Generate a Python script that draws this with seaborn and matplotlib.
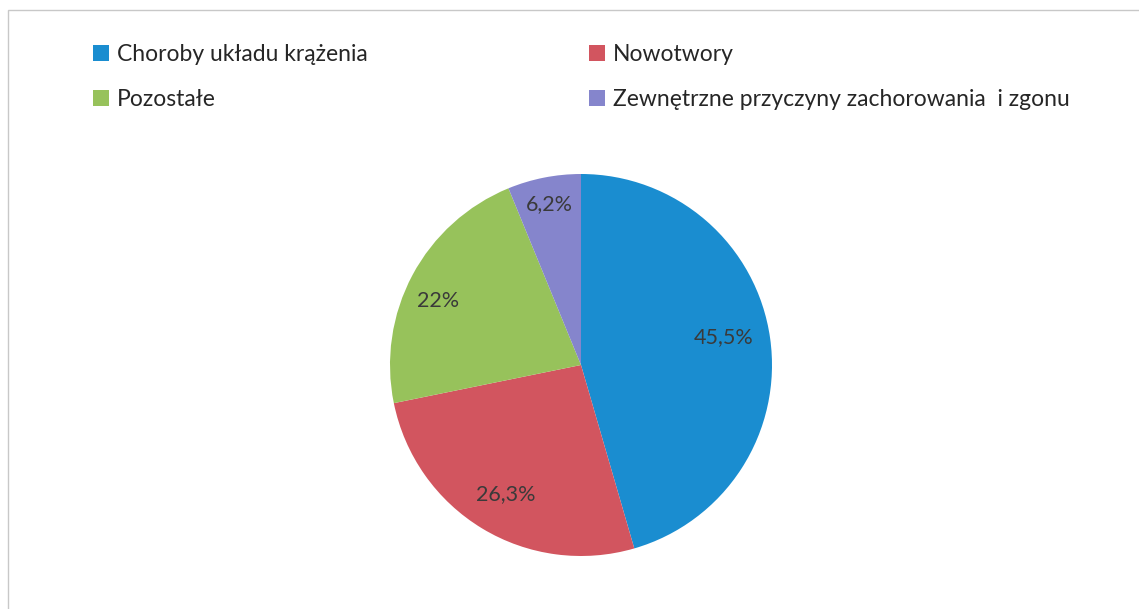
import numpy as np
import matplotlib
matplotlib.use('Agg')
import matplotlib.pyplot as plt
from matplotlib.patches import Rectangle
import seaborn as sns

# data
categories = ['Choroby układu krążenia', 'Nowotwory', 'Pozostałe',
              'Zewnętrzne przyczyny zachorowania  i zgonu']
shares = [45.5, 26.3, 22.0, 6.2]
pct_labels = ['45,5%', '26,3%', '22%', '6,2%']
colors = ['#1a8dd0', '#d2555f', '#97c25b', '#8585cc']

sns.set_style('white')
plt.rcParams['font.family'] = ['Lato', 'DejaVu Sans']

fig = plt.figure(figsize=(11.39, 6.09), dpi=100)

# chart border (cut off at right/bottom, like the scanned page)
fig.patches.append(Rectangle((8 / 1139, -0.05), 1.2, (609 - 10) / 609 + 0.05,
                             transform=fig.transFigure, fill=False,
                             edgecolor='#c8c8c8', linewidth=1.0))

# pie axes
pie_ax = fig.add_axes([(581 - 191) / 1139, (609 - 365 - 191) / 609,
                       382 / 1139, 382 / 609])
wedges, _ = pie_ax.pie(shares, colors=colors, startangle=90, counterclock=False,
                       wedgeprops={'linewidth': 0})
pie_ax.set_xlim(-1, 1)
pie_ax.set_ylim(-1, 1)
pie_ax.set_aspect('equal')

# percentage labels at Excel-like positions (radius, angle shift in degrees)
label_dist = [0.76, 0.78, 0.82, 0.86]
label_shift = [3, 1, 4, 0]
for i, w in enumerate(wedges):
    theta = np.deg2rad((w.theta1 + w.theta2) / 2 + label_shift[i])
    r = label_dist[i]
    pie_ax.text(r * np.cos(theta), r * np.sin(theta), pct_labels[i],
                ha='center', va='center', fontsize=15.5, color='#3a3a3a')

# legend: two columns, order filled column-wise
order = [0, 2, 1, 3]
leg = fig.legend([wedges[i] for i in order], [categories[i] for i in order],
                 ncol=2, loc='upper left', bbox_to_anchor=(93 / 1139, 1 - 44 / 609),
                 frameon=False, fontsize=16.5, handlelength=0.7, handleheight=0.7,
                 handletextpad=0.35, columnspacing=9.65, labelspacing=1.05,
                 borderaxespad=0, borderpad=0)
for t in leg.get_texts():
    t.set_color('#262626')

fig.savefig('out.png', dpi=100)
